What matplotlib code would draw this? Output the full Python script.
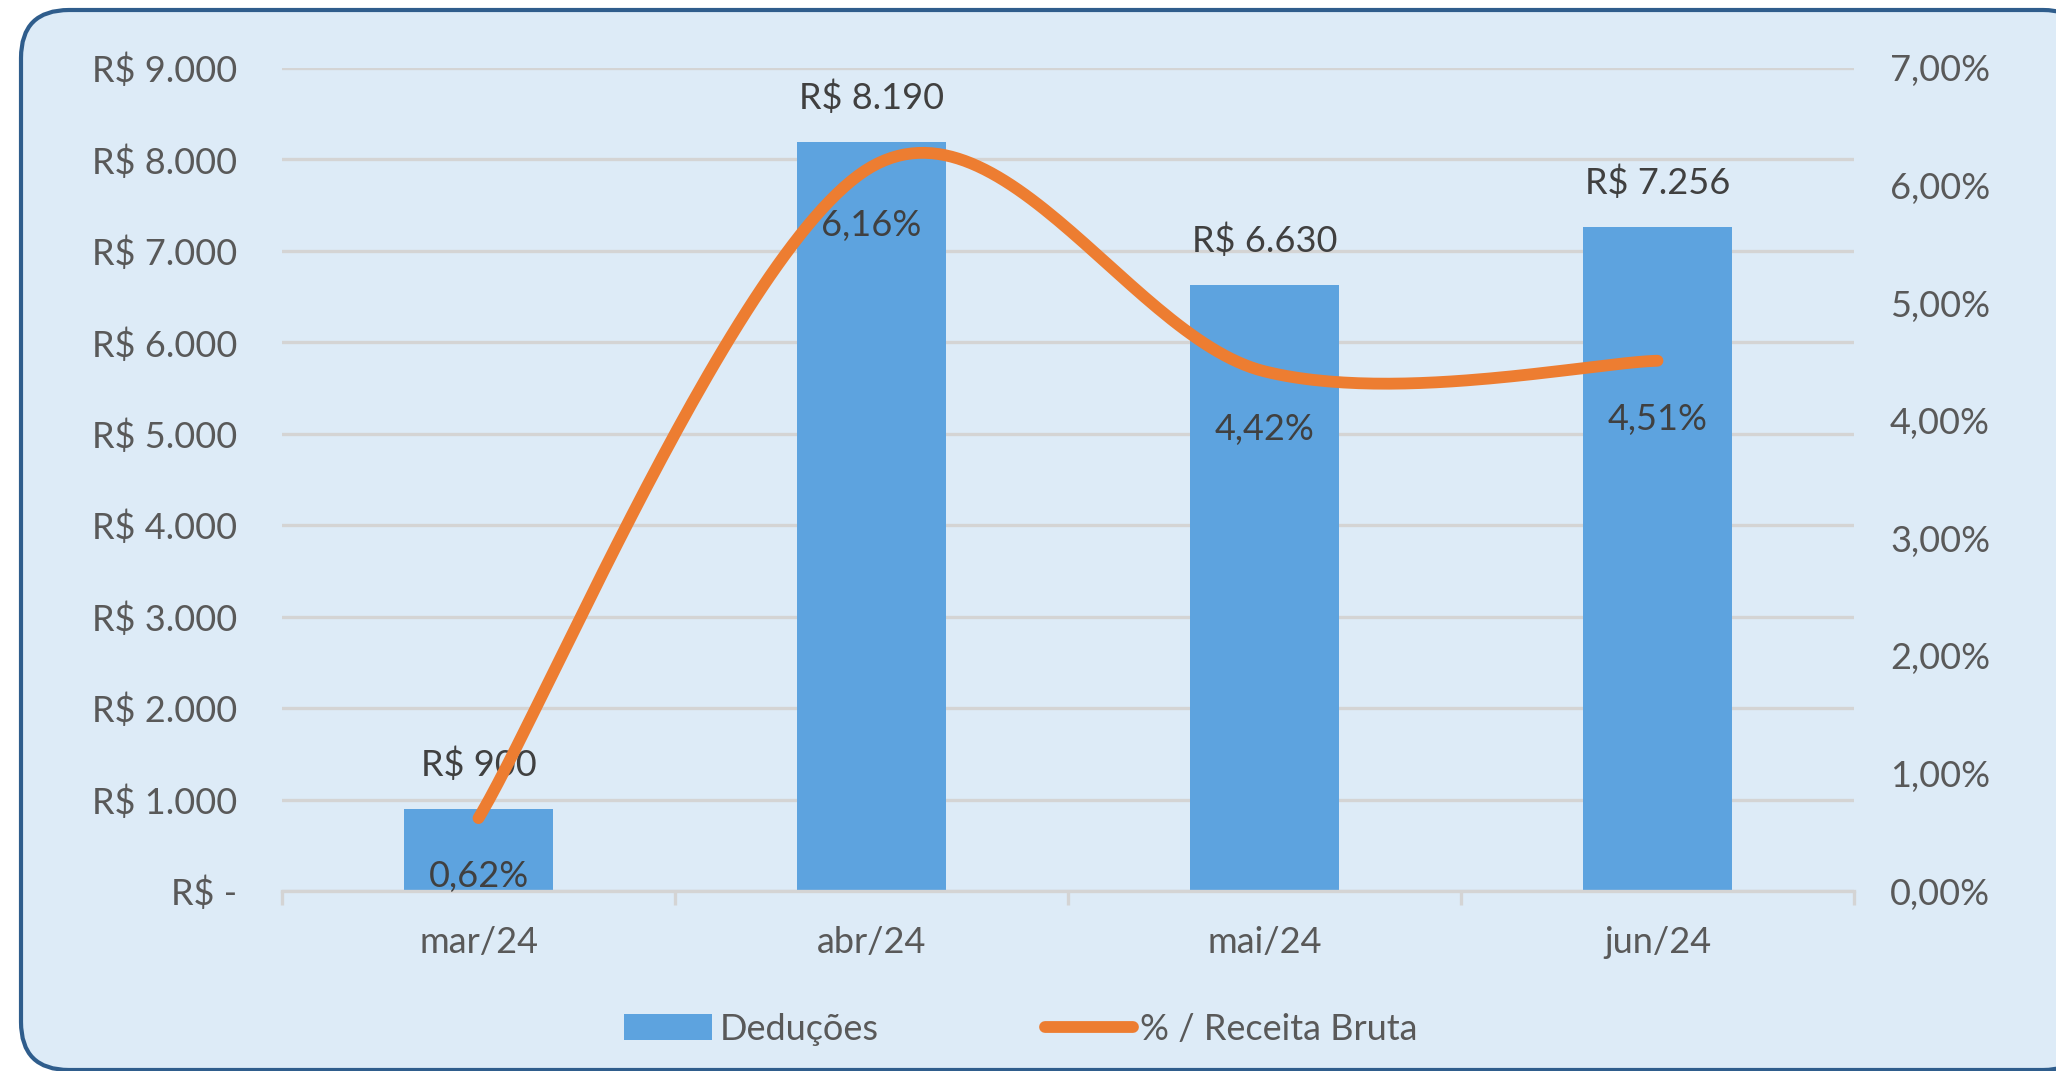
import numpy as np
import matplotlib
matplotlib.use("Agg")
import matplotlib.pyplot as plt
from matplotlib.patches import FancyBboxPatch, Patch
from matplotlib.lines import Line2D
from matplotlib.ticker import FuncFormatter

plt.rcParams['font.family'] = ['Lato', 'DejaVu Sans']

months = ["mar/24", "abr/24", "mai/24", "jun/24"]
deducoes = [900, 8190, 6630, 7256]
pct_receita = [0.62, 6.16, 4.42, 4.51]

bar_color = "#5DA3DF"
line_color = "#ED7D31"
bg_color = "#DDEBF7"
grid_color = "#D4D4D4"
tick_color = "#595959"
label_color = "#404040"
fs = 26


def fmt_brl(v):
    if v == 0:
        return "R$ -"
    return "R$ " + f"{v:,.0f}".replace(",", ".")


def smooth(xs, ys, n=60):
    # catmull-rom style bezier, like excel's smoothed line
    pts = np.column_stack([xs, ys]).astype(float)
    ext = np.vstack([pts[0], pts, pts[-1]])
    out = []
    for i in range(len(pts) - 1):
        p0, p1, p2, p3 = ext[i], ext[i + 1], ext[i + 2], ext[i + 3]
        c1 = p1 + (p2 - p0) / 6
        c2 = p2 - (p3 - p1) / 6
        t = np.linspace(0, 1, n)[:, None]
        seg = (1 - t) ** 3 * p1 + 3 * (1 - t) ** 2 * t * c1 + 3 * (1 - t) * t ** 2 * c2 + t ** 3 * p2
        out.append(seg if i == 0 else seg[1:])
    out = np.vstack(out)
    return out[:, 0], out[:, 1]


W, H = 2056, 1071
fig = plt.figure(figsize=(W / 100, H / 100), dpi=100)
fig.patch.set_facecolor("white")

# background frame in pixel units
bg = fig.add_axes([0, 0, 1, 1], zorder=-5)
bg.set_xlim(0, W)
bg.set_ylim(H, 0)
bg.axis("off")
bg.add_patch(FancyBboxPatch((21, 10), 2070, 1060,
                            boxstyle="round,pad=0,rounding_size=48",
                            facecolor=bg_color, edgecolor="#2F5D8C", linewidth=3,
                            clip_on=False))

ax = fig.add_axes([282 / W, 1 - 891 / H, (1854 - 282) / W, (891 - 68) / H])
ax.set_facecolor("none")
x = np.arange(len(months))

ax.bar(x, deducoes, width=0.38, color=bar_color, zorder=2)
ax.set_xlim(-0.5, 3.5)
ax.set_ylim(0, 9000)
ax.set_yticks(range(0, 9001, 1000))
ax.yaxis.set_major_formatter(FuncFormatter(lambda v, p: fmt_brl(v)))
ax.grid(axis="y", color=grid_color, linewidth=2.4, zorder=0)
ax.set_axisbelow(True)
for s in ["top", "right", "left"]:
    ax.spines[s].set_visible(False)
ax.spines["bottom"].set_color(grid_color)
ax.spines["bottom"].set_linewidth(2.4)
ax.tick_params(axis="y", length=0, pad=32, labelsize=fs, labelcolor=tick_color)
ax.set_xticks(np.arange(-0.5, 3.6, 1.0))
ax.set_xticklabels([])
ax.tick_params(axis="x", which="major", length=10, width=2.4, color=grid_color)
ax.set_xticks(x, minor=True)
ax.set_xticklabels(months, minor=True)
ax.tick_params(axis="x", which="minor", length=0, pad=25, labelsize=fs, labelcolor=tick_color)

for xi, v in zip(x, deducoes):
    ax.annotate(fmt_brl(v), (xi, v), xytext=(0, 32), textcoords="offset points",
                ha="center", va="center", fontsize=fs, color=label_color, zorder=5)

ax2 = ax.twinx()
ax2.set_ylim(0, 7)
ax2.set_yticks(range(0, 8))
ax2.yaxis.set_major_formatter(FuncFormatter(lambda v, p: f"{v:.2f}".replace(".", ",") + "%"))
for s in ["top", "right", "left", "bottom"]:
    ax2.spines[s].set_visible(False)
ax2.tick_params(axis="y", length=0, pad=26, labelsize=fs, labelcolor=tick_color)

sx, sy = smooth(x, pct_receita)
ax2.plot(sx, sy, color=line_color, linewidth=8.5, solid_capstyle="round", zorder=3)
for xi, v in zip(x, pct_receita):
    ax2.annotate(f"{v:.2f}".replace(".", ",") + "%", (xi, v), xytext=(0, -42),
                 textcoords="offset points", ha="center", va="center",
                 fontsize=fs, color=label_color, zorder=5)

handles = [Patch(facecolor=bar_color, label="Deduções"),
           Line2D([], [], color=line_color, linewidth=8.5, solid_capstyle="round",
                  label="% / Receita Bruta")]
leg = fig.legend(handles=handles, loc="center", bbox_to_anchor=(0.4965, 1 - 1029 / H),
                 ncol=2, frameon=False, fontsize=fs, handlelength=2.45,
                 handletextpad=0.2, columnspacing=4.6)
for t in leg.get_texts():
    t.set_color(tick_color)

fig.savefig("out.png", dpi=100, facecolor=fig.get_facecolor())
